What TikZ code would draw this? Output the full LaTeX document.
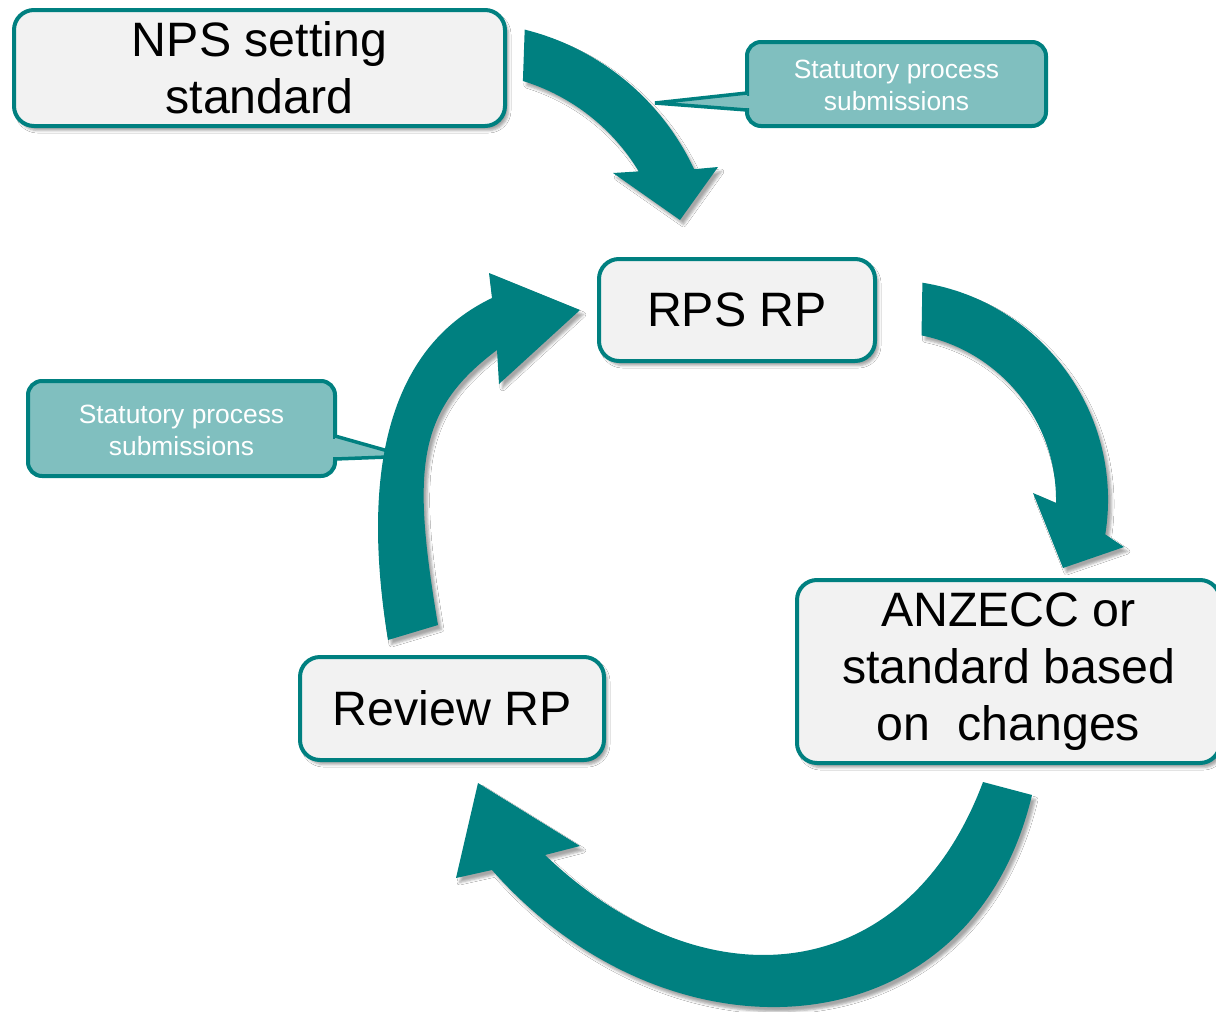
\documentclass[tikz,border=0pt]{standalone}
\usepackage{fontspec}
\setmainfont{Liberation Sans}
\usetikzlibrary{shadows.blur}
\definecolor{tealD}{RGB}{0,128,128}
\definecolor{tealL}{RGB}{128,191,191}
\definecolor{boxfill}{RGB}{242,242,242}
\begin{document}
\begin{tikzpicture}[x=1pt,y=-1pt,
  softshadow/.style={blur shadow={shadow xshift=3.5pt,shadow yshift=-4.5pt,shadow blur radius=2.5pt,shadow opacity=35}},
  mainbox/.style={draw=tealD,line width=4pt,fill=boxfill,rounded corners=20pt,align=center,font=\fontsize{48.3}{57}\selectfont,inner sep=0pt,softshadow},
  calloutbox/.style={draw=tealD,line width=4pt,fill=tealL,rounded corners=14pt},
  callouttail/.style={draw=tealD,line width=3.5pt,fill=tealL},
  callouttext/.style={text=white,align=center,font=\fontsize{26.4}{32}\selectfont,inner sep=0pt},
  bigarrow/.style={fill=tealD,softshadow}]
\useasboundingbox (0,0) rectangle (1216,1012);
\clip (0,0) rectangle (1216,1012);
\fill[white] (0,0) rectangle (1216,1012);

% callout 2 (its tail runs under arrow 4)
\draw[calloutbox] (28,381) rectangle (335,476);
\filldraw[callouttail] (335,436) -- (388,451) -- (388,457) -- (335,459);
\fill[tealL] (331,439) rectangle (339,456.5);
\node[callouttext] (c2) at (181.5,430) {Statutory process\\submissions};

% arrow 1: NPS -> RPS RP
\fill[bigarrow] (524.7,29.6) .. controls (599.3,48.2) and (661.6,99.5) .. (694.1,169.2)
  -- (718,167) -- (680,220) -- (613,173) -- (638.7,171.4)
  .. controls (612.6,128) and (571.3,95.8) .. (522.9,81) -- cycle;

% arrow 2: RPS RP -> ANZECC
\fill[bigarrow] (922.4,282.7) .. controls (1042.4,301.7) and (1124.3,414.4) .. (1105.3,534.4)
  -- (1124,547) -- (1063,568) -- (1033,493) -- (1056,502.9)
  .. controls (1057.4,421.9) and (1000.9,351.5) .. (921.5,335.4) -- cycle;

% arrow 3: ANZECC -> Review RP
\fill[bigarrow] (1032,795) .. controls (970,1055) and (669,1071) .. (492,870)
  -- (456,878) -- (478,783) -- (580,846) -- (545,855)
  .. controls (704,1007) and (906,988) .. (983,782) -- cycle;

% arrow 4: Review RP -> RPS RP
\fill[bigarrow] (388,640) .. controls (359,462.3) and (393,345.3) .. (492,298)
  -- (489,273) -- (580,310) -- (499,384) -- (497,350)
  .. controls (417,410) and (411.3,467.2) .. (438,625) -- cycle;

% main boxes
\node[mainbox,minimum width=491pt,minimum height=116pt] (nps) at (259.5,68) {NPS setting\\standard};
\node[mainbox,minimum width=276pt,minimum height=102pt] (rps) at (737,310) {RPS RP};
\node[mainbox,minimum width=304pt,minimum height=103pt] (review) at (452,708.5) {Review RP};
\node[mainbox,minimum width=423pt,minimum height=183pt] (anzecc) at (1008.5,671.5) {ANZECC or\\standard based\\on~~changes};

% callout 1 (its tail lies over arrow 1)
\draw[calloutbox] (747,42) rectangle (1046,126);
\filldraw[callouttail] (747,93) -- (655,103) -- (747,110);
\fill[tealL] (743,95.5) rectangle (751,107.5);
\node[callouttext] (c1) at (896.5,85) {Statutory process\\submissions};
\end{tikzpicture}
\end{document}
